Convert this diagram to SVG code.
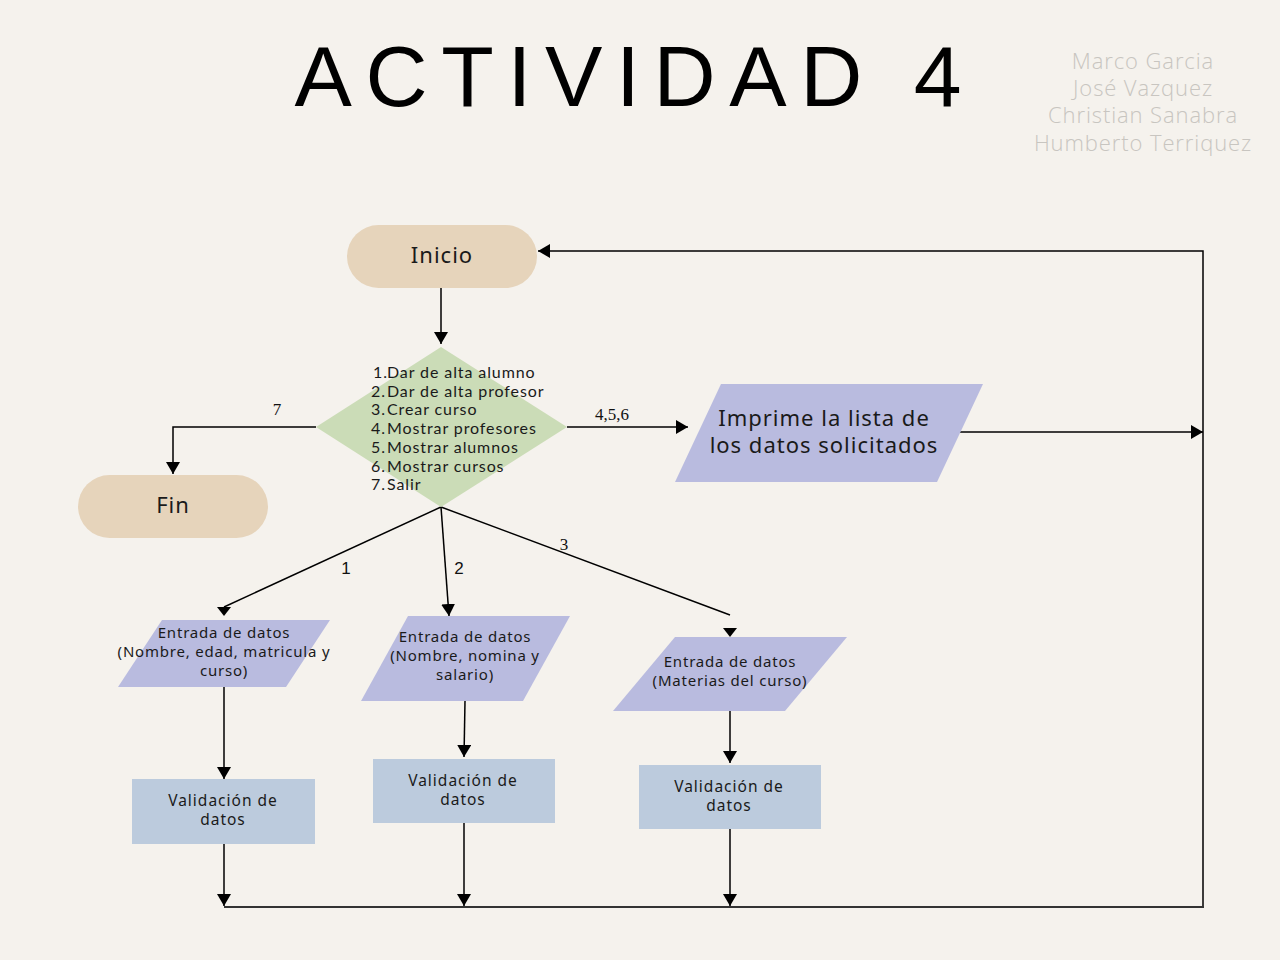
<svg xmlns="http://www.w3.org/2000/svg" width="1280" height="960" viewBox="0 0 1280 960">
<defs>
<style>
.bg{fill:#f5f2ed}
.term{fill:#e6d4bb}
.dec{fill:#cbdcb7}
.io{fill:#b9bbdf}
.proc{fill:#bccbdd}
.ln{fill:none;stroke:#000;stroke-width:1.5}
.lnb{fill:none;stroke:#333;stroke-width:2.2}
.t{font-family:"Noto Sans","Liberation Sans",sans-serif;fill:#1a1a1a;text-anchor:middle}
.big{font-size:22px;letter-spacing:1px}
.sm{font-size:15px;letter-spacing:0.8px}
.vd{font-size:15.5px;letter-spacing:1px}
.lbl{font-family:"Liberation Serif",serif;font-size:17px;fill:#111;text-anchor:middle}
.lbls{font-family:"Liberation Sans",sans-serif;font-size:17px;fill:#111;text-anchor:middle}
.list{font-family:"Lato","Noto Sans",sans-serif;font-size:16px;letter-spacing:0.9px;fill:#1a1a1a}
.auth{font-family:"Open Sans","Noto Sans",sans-serif;font-weight:300;font-size:22px;letter-spacing:0.9px;fill:#c8c5c0;text-anchor:middle}
</style>
<marker id="ah" viewBox="0 0 12 14" refX="12" refY="7" markerWidth="12" markerHeight="14" markerUnits="userSpaceOnUse" orient="auto">
<path d="M0,0 L12,7 L0,14 Z" fill="#000"/>
</marker>
</defs>
<rect class="bg" x="0" y="0" width="1280" height="960"/>
<text x="628" y="106" font-family="Liberation Sans, sans-serif" font-size="86" fill="#000" text-anchor="middle" textLength="667" lengthAdjust="spacing">ACTIVIDAD 4</text>
<g id="authors">
<text class="auth" x="1143" y="69">Marco Garcia</text>
<text class="auth" x="1143" y="96">José Vazquez</text>
<text class="auth" x="1143" y="123">Christian Sanabra</text>
<text class="auth" x="1143" y="151">Humberto Terriquez</text>
</g>
<g id="connectors">
<line class="ln" x1="441" y1="288" x2="441" y2="344" marker-end="url(#ah)"/>
<polyline class="ln" points="316,427 173,427 173,474" marker-end="url(#ah)"/>
<line class="ln" x1="567" y1="427" x2="688" y2="427" marker-end="url(#ah)"/>
<line class="ln" x1="950" y1="432" x2="1203" y2="432" marker-end="url(#ah)"/>
<polyline class="ln" points="1203,907 1203,251 538,251" marker-end="url(#ah)"/>
<line class="ln" x1="441" y1="507" x2="224" y2="607"/>
<path d="M217,607 L231,607 L224,616 Z" fill="#000"/>
<line class="ln" x1="441" y1="507" x2="449" y2="616" marker-end="url(#ah)"/>
<line class="ln" x1="441" y1="507" x2="730" y2="615"/>
<path d="M723,628 L737,628 L730,637 Z" fill="#000"/>
<line class="ln" x1="224" y1="687" x2="224" y2="779" marker-end="url(#ah)"/>
<line class="ln" x1="465" y1="701" x2="464" y2="757" marker-end="url(#ah)"/>
<line class="ln" x1="730" y1="711" x2="730" y2="763" marker-end="url(#ah)"/>
<line class="ln" x1="224" y1="844" x2="224" y2="906" marker-end="url(#ah)"/>
<line class="ln" x1="464" y1="823" x2="464" y2="906" marker-end="url(#ah)"/>
<line class="ln" x1="730" y1="829" x2="730" y2="906" marker-end="url(#ah)"/>
<line class="lnb" x1="224" y1="907" x2="1204" y2="907"/>
<text class="lbl" x="277" y="415">7</text>
<text class="lbl" x="612" y="420">4,5,6</text>
<text class="lbls" x="346" y="574">1</text>
<text class="lbls" x="459" y="574">2</text>
<text class="lbl" x="564" y="550">3</text>
</g>
<g id="inicio">
<rect class="term" x="347" y="225" width="190" height="63" rx="31.5"/>
<text class="t big" x="442" y="263">Inicio</text>
</g>
<g id="menu">
<polygon class="dec" points="441,347 567,427 441,507 316,427"/>
<g class="list">
<text x="373" y="378">1.</text><text x="387" y="378">Dar de alta alumno</text>
<text x="371" y="397">2.</text><text x="387" y="397">Dar de alta profesor</text>
<text x="371" y="415">3.</text><text x="387" y="415">Crear curso</text>
<text x="371" y="434">4.</text><text x="387" y="434">Mostrar profesores</text>
<text x="371" y="453">5.</text><text x="387" y="453">Mostrar alumnos</text>
<text x="371" y="472">6.</text><text x="387" y="472">Mostrar cursos</text>
<text x="371" y="490">7.</text><text x="387" y="490">Salir</text>
</g>
</g>
<g id="fin">
<rect class="term" x="78" y="475" width="190" height="63" rx="31.5"/>
<text class="t big" x="173" y="513">Fin</text>
</g>
<g id="imprime">
<polygon class="io" points="721,384 983,384 937,482 675,482"/>
<text class="t big" x="824" y="426">Imprime la lista de</text>
<text class="t big" x="824" y="453">los datos solicitados</text>
</g>
<g id="entrada1">
<polygon class="io" points="162,620 330,620 286,687 118,687"/>
<text class="t sm" x="224" y="638">Entrada de datos</text>
<text class="t sm" x="224" y="657">(Nombre, edad, matricula y</text>
<text class="t sm" x="224" y="676">curso)</text>
</g>
<g id="entrada2">
<polygon class="io" points="408,616 570,616 523,701 361,701"/>
<text class="t sm" x="465" y="642">Entrada de datos</text>
<text class="t sm" x="465" y="661">(Nombre, nomina y</text>
<text class="t sm" x="465" y="680">salario)</text>
</g>
<g id="entrada3">
<polygon class="io" points="675,637 847,637 785,711 613,711"/>
<text class="t sm" x="730" y="667">Entrada de datos</text>
<text class="t sm" x="730" y="686">(Materias del curso)</text>
</g>
<g id="valid1">
<rect class="proc" x="132" y="779" width="183" height="65"/>
<text class="t vd" x="223" y="806">Validación de</text>
<text class="t vd" x="223" y="825">datos</text>
</g>
<g id="valid2">
<rect class="proc" x="373" y="759" width="182" height="64"/>
<text class="t vd" x="463" y="786">Validación de</text>
<text class="t vd" x="463" y="805">datos</text>
</g>
<g id="valid3">
<rect class="proc" x="639" y="765" width="182" height="64"/>
<text class="t vd" x="729" y="792">Validación de</text>
<text class="t vd" x="729" y="811">datos</text>
</g>
</svg>
